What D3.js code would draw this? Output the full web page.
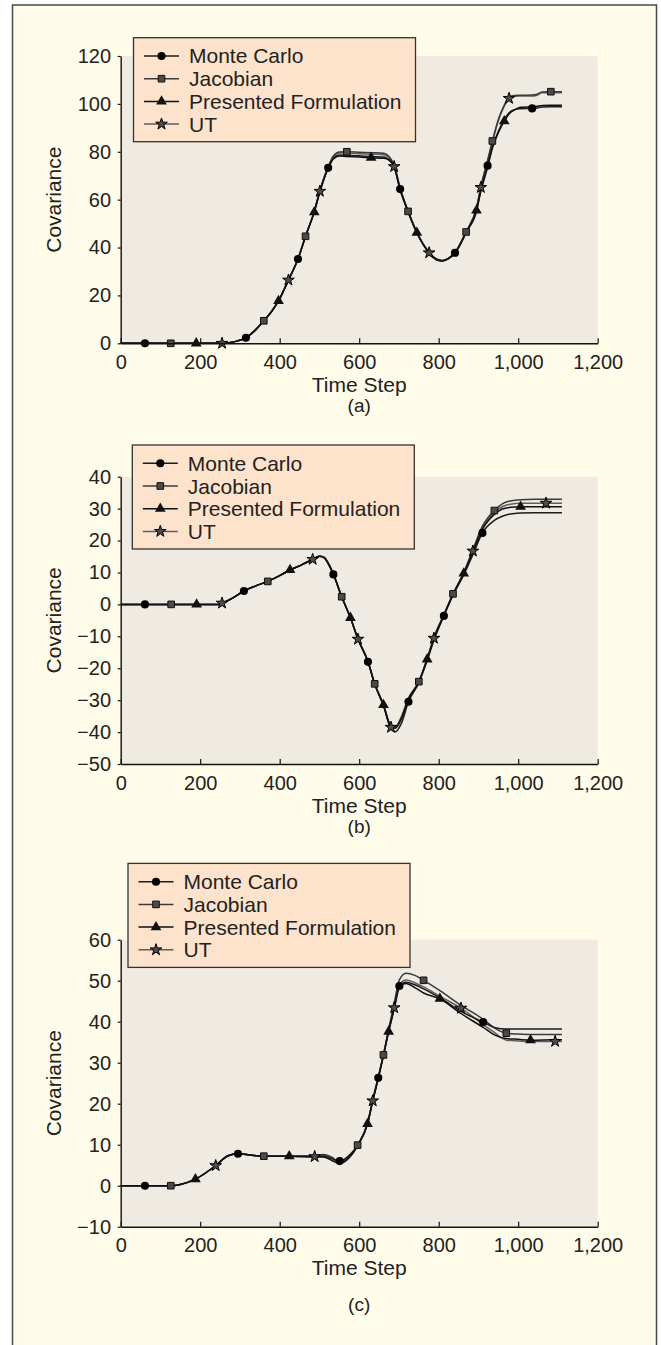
<!DOCTYPE html>
<html>
  <head>
    <meta charset="utf-8" />
    <title>Covariance vs Time Step</title>
    <script src="https://d3js.org/d3.v7.min.js"></script>
    <style>
      body {
          margin: 0;
          background: #fff;
      }
      text {
          font-family: "Liberation Sans", Arial, sans-serif;
          fill: #222;
      }
    </style>
  </head>
  <body>

    <svg id="figure"></svg>

    <script>
        // series names, in the order the markers cycle along each curve
        var seriesNames = ["Monte Carlo", "Jacobian", "Presented Formulation", "UT"];
        var xTicks = [0, 200, 400, 600, 800, 1000, 1200];

        // ---- panel (a)
        var timeA = [0, 61, 126, 190, 255, 272, 292, 315, 338, 360, 380, 397, 422, 446, 465,
            487, 501, 522, 535, 550, 569, 600, 630, 662, 675, 688, 703, 723, 745, 776,
            795, 809, 823, 841, 869, 895, 906, 923, 935, 950, 965, 977, 990, 1005, 1035,
            1045, 1060, 1082, 1110];
        var mcA = [0, 0, 0, 0, 0, 0.2, 0.9, 2.3, 5.4, 9.4, 13.4, 17.7, 26.4, 35.2, 44.7,
            55, 63.5, 73.3, 77.3, 78.6, 78.5, 78.3, 78.0, 77.8, 76.8, 73.8, 64.4, 55.1, 46.2, 37.8,
            35, 34.5, 35.3, 37.8, 46.5, 55, 64, 74.2, 82, 88.5, 93.5, 96.3, 97.6, 98, 98.1,
            98.2, 98.7, 98.8, 98.8];
        var jacA = [0, 0, 0, 0, 0, 0.2, 0.9, 2.3, 5.4, 9.4, 13.4, 17.7, 26.4, 35.2, 44.7,
            55.2, 63.8, 73.8, 78.3, 79.9, 80, 79.8, 79.6, 79.4, 78, 74.5, 65, 55.1, 46.4, 38,
            35.2, 34.6, 35.4, 38, 46.5, 56.5, 65.5, 76.5, 84.5, 93.5, 99.5, 102.8, 103.5, 103.6, 103.7,
            103.9, 105, 105.1, 105.1];
        var presA = [0, 0, 0, 0, 0, 0.2, 0.9, 2.3, 5.4, 9.4, 13.4, 17.7, 26.4, 35.2, 44.7,
            54.8, 63.2, 73, 77, 78.2, 78, 77.8, 77.5, 77.3, 76.5, 73.5, 64, 54.9, 46.2, 37.8,
            34.8, 34.4, 35.2, 37.6, 46.2, 55.5, 63.5, 73.5, 81.5, 88, 92.8, 95.8, 97.4, 98.6, 98.8,
            98.9, 99.3, 99.4, 99.4];
        var utA = [0, 0, 0, 0, 0, 0.2, 0.9, 2.3, 5.4, 9.4, 13.4, 17.7, 26.4, 35.2, 44.7,
            55.1, 63.5, 73.6, 78, 79.5, 79.4, 79.2, 79, 78.8, 77.8, 73.8, 64.6, 55.2, 46.3, 37.8,
            35, 34.5, 35.3, 37.9, 46.6, 56.5, 65.1, 76, 84, 93, 99, 102.3, 103.2, 103.3, 103.3,
            103.5, 104.6, 104.7, 104.7];
        var marksA = [61, 126, 190, 255, 315, 360, 397, 422, 446, 465, 487, 501, 522, 569, 630, 688,
            703, 723, 745, 776, 841, 869, 895, 906, 923, 935, 965, 977, 1035, 1082];
        var yTicksA = [0, 20, 40, 60, 80, 100, 120];

        // ---- panel (b)
        var timeB = [0, 61, 127, 191, 245, 255, 280, 310, 340, 370, 400, 426, 455, 483, 500,
            512, 522, 535, 556, 578, 597, 622, 639, 661, 680, 691, 705, 724, 750, 771,
            788, 813, 836, 863, 886, 910, 940, 960, 980, 1006, 1040, 1070, 1110];
        var mcB = [0, 0, 0, 0, 0, 0.4, 1.9, 4.2, 5.8, 7.2, 9, 10.8, 12.4, 14.1, 15.1,
            14.6, 12.8, 9.4, 2.4, -4.2, -10.9, -18, -25, -31.8, -39, -39.9, -37.6, -30.5, -24.6, -17.6,
            -11.2, -3.6, 2.9, 9.2, 15.6, 22.4, 26.3, 27.6, 28.3, 28.6, 28.7, 28.7, 28.7];
        var jacB = [0, 0, 0, 0, 0, 0.4, 1.9, 4.2, 5.8, 7.2, 9, 10.8, 12.4, 14.1, 15.1,
            14.8, 13, 9.6, 2.4, -4.2, -10.8, -17.8, -24.9, -31.3, -38, -38.3, -35.5, -29.3, -24.2, -17,
            -10.3, -3.2, 3.3, 10, 17.2, 24.5, 29.4, 31.5, 32.4, 32.8, 32.9, 32.9, 32.9];
        var presB = [0, 0, 0, 0, 0, 0.4, 1.9, 4.2, 5.8, 7.2, 9, 10.8, 12.4, 14.1, 15.1,
            14.6, 12.8, 9.4, 2.4, -4.2, -10.9, -17.9, -24.9, -31.5, -38.3, -38.8, -36.2, -29.8, -24.3, -17.2,
            -10.8, -3.4, 3.1, 9.7, 16.4, 23.5, 28.2, 29.9, 30.4, 30.6, 30.6, 30.6, 30.6];
        var utB = [0, 0, 0, 0, 0, 0.4, 1.9, 4.2, 5.8, 7.2, 9, 10.8, 12.4, 14.1, 15.1,
            14.7, 12.9, 9.5, 2.4, -4.2, -10.9, -17.9, -24.9, -31.4, -38.5, -38.6, -36, -29.7, -24.2, -17.1,
            -10.6, -3.3, 3.2, 9.9, 16.7, 24, 28.9, 30.6, 31.4, 31.7, 31.7, 31.7, 31.7];
        var marksB = [61, 127, 191, 255, 310, 370, 426, 483, 535, 556, 578, 597, 622, 639, 661, 680,
            724, 750, 771, 788, 813, 836, 863, 886, 910, 940, 1006, 1070];
        var yTicksB = [-50, -40, -30, -20, -10, 0, 10, 20, 30, 40];

        // ---- panel (c)
        var timeC = [0, 61, 126, 150, 188, 239, 270, 295, 330, 360, 424, 488, 510, 530, 551,
            575, 596, 621, 634, 648, 661, 674, 688, 701, 718, 740, 762, 803, 856, 912,
            940, 970, 1000, 1031, 1093, 1110];
        var mcC = [0, 0, 0, 0.3, 1.6, 4.9, 7.3, 7.8, 7.4, 7.2, 7.2, 7.1, 7.2, 6.6, 6.0,
            7.4, 9.9, 15.1, 20.7, 26.3, 31.9, 37.6, 43.4, 48.7, 49.6, 49, 48, 45.8, 42.5, 39.9,
            38.6, 38.2, 38.2, 38.2, 38.2, 38.2];
        var jacC = [0, 0, 0, 0.3, 1.6, 4.9, 7.3, 7.8, 7.4, 7.2, 7.2, 7.3, 7.6, 7.0, 5.8,
            7.0, 9.9, 15.3, 21, 26.6, 31.9, 38.2, 44.5, 50.2, 51.8, 51.3, 50.1, 47.6, 44, 40.6,
            38.5, 37.2, 37, 36.9, 36.9, 36.9];
        var presC = [0, 0, 0, 0.3, 1.6, 4.9, 7.3, 7.8, 7.4, 7.2, 7.2, 7.0, 7.0, 6.2, 5.4,
            6.8, 9.7, 15.1, 20.6, 26.1, 31.7, 37.6, 43, 48.3, 49.3, 48.3, 47, 45.6, 42, 38.6,
            36.8, 35.9, 35.7, 35.5, 35.6, 35.6];
        var utC = [0, 0, 0, 0.3, 1.6, 4.9, 7.3, 7.8, 7.4, 7.2, 7.2, 7.1, 7.4, 6.8, 5.5,
            7.2, 9.8, 15.2, 20.7, 26.3, 32, 37.8, 43.4, 49, 50.2, 49.5, 48.5, 46.2, 43.3, 39.3,
            37.4, 35.5, 35.3, 35.2, 35.2, 35.2];
        var marksC = [61, 126, 188, 239, 295, 360, 424, 488, 551, 596, 621, 634, 648, 661, 674, 688,
            701, 762, 803, 856, 912, 970, 1031, 1093];
        var yTicksC = [-10, 0, 10, 20, 30, 40, 50, 60];

        var width = 661;
        var height = 1345;
        var xLeft = 120.7, xRight = 597.7;

        var svg = d3.select("#figure")
          .attr("width", width)
          .attr("height", height);

        // cream page with its frame
        svg.append("rect")
          .attr("x", 12.5).attr("y", 5)
          .attr("width", 644).attr("height", 1360)
          .attr("fill", "#fffce9")
          .attr("stroke", "#4a4a4a")
          .attr("stroke-width", 1.5);

        var lineColors = ["#1c1c1c", "#3a3a3a", "#111", "#5e5e5e"];
        var symbols = [d3.symbolCircle, d3.symbolSquare, d3.symbolTriangle, d3.symbolStar];
        var symSizes = [52, 44, 50, 42];
        var symFill = ["#000", "#4a4a4a", "#111", "#4d4d4d"];
        var symStroke = ["none", "#111", "none", "#000"];

        function drawMarker(g, k, x, y) {
          g.append("path")
            .attr("d", d3.symbol().type(symbols[k]).size(symSizes[k])())
            .attr("transform", "translate(" + x + "," + y + ")")
            .attr("fill", symFill[k])
            .attr("stroke", symStroke[k])
            .attr("stroke-width", 1);
        }

        var panels = [
          {time: timeA, series: [mcA, jacA, presA, utA], marks: marksA, yTicks: yTicksA,
           top: 56, bottom: 343.3, legendX: 133.5, legendY: 37.7, tag: "(a)", tagDy: 69},
          {time: timeB, series: [mcB, jacB, presB, utB], marks: marksB, yTicks: yTicksB,
           top: 476.7, bottom: 764, legendX: 132.3, legendY: 445, tag: "(b)", tagDy: 69},
          {time: timeC, series: [mcC, jacC, presC, utC], marks: marksC, yTicks: yTicksC,
           top: 939.7, bottom: 1226.7, legendX: 128, legendY: 863.4, tag: "(c)", tagDy: 84.3}
        ];

        panels.forEach(function(p) {
          var g = svg.append("g");

          var x = d3.scaleLinear()
            .domain([0, 1200])
            .range([xLeft, xRight]);

          var y = d3.scaleLinear()
            .domain(d3.extent(p.yTicks))
            .range([p.bottom, p.top]);

          // plot background
          g.append("rect")
            .attr("x", xLeft).attr("y", p.top)
            .attr("width", xRight - xLeft).attr("height", p.bottom - p.top)
            .attr("fill", "#efebe3");

          // curves, lightest first
          var line = d3.line()
            .x(function(d) { return x(d[0]); })
            .y(function(d) { return y(d[1]); })
            .curve(d3.curveMonotoneX);

          [3, 1, 0, 2].forEach(function(k) {
            var pts = p.time.map(function(t, i) { return [t, p.series[k][i]]; });
            g.append("path")
              .attr("d", line(pts))
              .attr("fill", "none")
              .attr("stroke", lineColors[k])
              .attr("stroke-width", 1.5);
          });

          // markers cycle through the four series along the curves
          p.marks.forEach(function(t, i) {
            var k = i % 4;
            var idx = p.time.indexOf(t);
            drawMarker(g, k, x(t), y(p.series[k][idx]));
          });

          // axes
          var yAxis = d3.axisLeft(y)
            .tickValues(p.yTicks)
            .tickSizeInner(3)
            .tickSizeOuter(0)
            .tickPadding(6.7);
          var ya = g.append("g")
            .attr("transform", "translate(" + xLeft + ",0)")
            .call(yAxis);

          var xAxis = d3.axisBottom(x)
            .tickValues(xTicks)
            .tickFormat(d3.format(","))
            .tickSizeInner(-5)
            .tickSizeOuter(0)
            .tickPadding(11.5);
          var xa = g.append("g")
            .attr("transform", "translate(0," + p.bottom + ")")
            .call(xAxis);

          [ya, xa].forEach(function(a) {
            a.select(".domain").attr("stroke", "#111").attr("stroke-width", 1.4);
            a.selectAll(".tick line").attr("stroke", "#111").attr("stroke-width", 1.2);
            a.selectAll(".tick text")
              .attr("font-size", 20)
              .attr("font-family", "'Liberation Sans', Arial, sans-serif")
              .attr("fill", "#222");
          });

          // axis titles
          g.append("text")
            .attr("transform", "translate(61," + ((p.top + p.bottom) / 2) + ") rotate(-90)")
            .attr("text-anchor", "middle")
            .attr("font-size", 21)
            .text("Covariance");

          g.append("text")
            .attr("x", (xLeft + xRight) / 2)
            .attr("y", p.bottom + 48.5)
            .attr("text-anchor", "middle")
            .attr("font-size", 21)
            .text("Time Step");

          g.append("text")
            .attr("x", (xLeft + xRight) / 2)
            .attr("y", p.bottom + p.tagDy)
            .attr("text-anchor", "middle")
            .attr("font-size", 19)
            .text(p.tag);

          // legend
          var lg = g.append("g")
            .attr("transform", "translate(" + p.legendX + "," + p.legendY + ")");
          lg.append("rect")
            .attr("width", 282).attr("height", 104)
            .attr("fill", "#fde3cb")
            .attr("stroke", "#333")
            .attr("stroke-width", 1.3);

          seriesNames.forEach(function(name, k) {
            var ry = 18.3 + k * 22.7;
            lg.append("line")
              .attr("x1", 10.5).attr("x2", 45.5)
              .attr("y1", ry).attr("y2", ry)
              .attr("stroke", lineColors[k])
              .attr("stroke-width", 1.5);
            drawMarker(lg, k, 28, ry);
            lg.append("text")
              .attr("x", 55.5)
              .attr("y", ry + 7.5)
              .attr("font-size", 21)
              .text(name);
          });
        });

    </script>
  </body>
</html>
